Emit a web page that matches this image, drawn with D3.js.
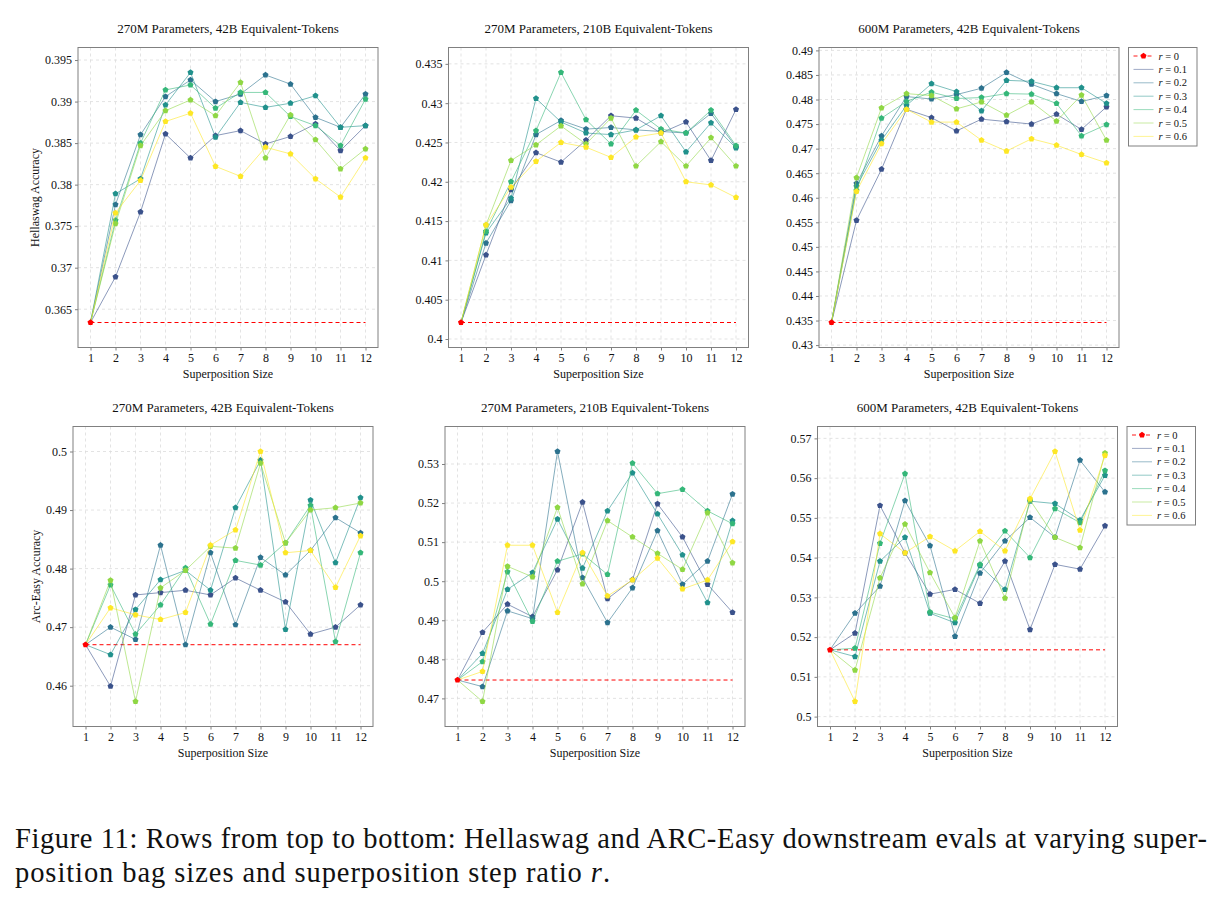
<!DOCTYPE html>
<html>
<head>
<meta charset="utf-8">
<script src="https://cdn.jsdelivr.net/npm/d3@7"></script>
<style>
  body { margin: 0; background: #fff; }
  svg { display: block; }
  text { font-family: "Liberation Serif", "DejaVu Serif", serif; fill: #111; }
</style>
</head>
<body>
<div class="canvas"></div>
<script>
// superposition sizes and step ratios
const sizes = [1, 2, 3, 4, 5, 6, 7, 8, 9, 10, 11, 12]
const ratios = ['0.1', '0.2', '0.3', '0.4', '0.5', '0.6']
const colors = ['#3b528b', '#2c728e', '#21918c', '#35b779', '#8fd744', '#fde725']

// r = 0 baselines (value at size 1, every series starts there)
const baselines = [0.3634, 0.4021, 0.4346, 0.4670, 0.4747, 0.5168]

// values for sizes 2..12, one row per ratio (0.1 .. 0.6)
const hellaswag270m42b = [
  [0.3689, 0.3767, 0.3861, 0.3832, 0.3859, 0.3865, 0.3849, 0.3858, 0.3873, 0.3841, 0.3871],
  [0.3776, 0.3860, 0.3906, 0.3926, 0.3900, 0.3909, 0.3932, 0.3921, 0.3881, 0.3869, 0.3909],
  [0.3789, 0.3807, 0.3896, 0.3935, 0.3857, 0.3899, 0.3893, 0.3898, 0.3907, 0.3869, 0.3871],
  [0.3757, 0.3850, 0.3914, 0.3920, 0.3892, 0.3911, 0.3911, 0.3882, 0.3871, 0.3847, 0.3903],
  [0.3753, 0.3847, 0.3889, 0.3902, 0.3883, 0.3923, 0.3832, 0.3884, 0.3854, 0.3819, 0.3843],
  [0.3766, 0.3805, 0.3876, 0.3886, 0.3822, 0.3810, 0.3845, 0.3837, 0.3807, 0.3785, 0.3832]
]
const hellaswag270m210b = [
  [0.4107, 0.4190, 0.4237, 0.4225, 0.4253, 0.4284, 0.4281, 0.4262, 0.4276, 0.4227, 0.4292],
  [0.4122, 0.4176, 0.4260, 0.4278, 0.4267, 0.4269, 0.4266, 0.4264, 0.4262, 0.4287, 0.4244],
  [0.4135, 0.4179, 0.4306, 0.4276, 0.4262, 0.4260, 0.4266, 0.4284, 0.4238, 0.4275, 0.4243],
  [0.4137, 0.4200, 0.4265, 0.4339, 0.4279, 0.4248, 0.4291, 0.4267, 0.4262, 0.4291, 0.4246],
  [0.4145, 0.4227, 0.4247, 0.4271, 0.4248, 0.4281, 0.4220, 0.4251, 0.4220, 0.4256, 0.4220],
  [0.4145, 0.4193, 0.4226, 0.4250, 0.4244, 0.4231, 0.4257, 0.4262, 0.4200, 0.4196, 0.4180]
]
const hellaswag600m42b = [
  [0.4554, 0.4658, 0.4780, 0.4763, 0.4736, 0.4760, 0.4755, 0.4750, 0.4770, 0.4739, 0.4785],
  [0.4629, 0.4726, 0.4806, 0.4801, 0.4810, 0.4823, 0.4855, 0.4831, 0.4812, 0.4796, 0.4808],
  [0.4623, 0.4717, 0.4788, 0.4832, 0.4816, 0.4777, 0.4839, 0.4837, 0.4824, 0.4824, 0.4792],
  [0.4615, 0.4762, 0.4796, 0.4815, 0.4802, 0.4804, 0.4812, 0.4811, 0.4792, 0.4726, 0.4749],
  [0.4641, 0.4783, 0.4812, 0.4808, 0.4781, 0.4795, 0.4768, 0.4795, 0.4756, 0.4809, 0.4717],
  [0.4613, 0.4710, 0.4780, 0.4754, 0.4754, 0.4717, 0.4695, 0.4720, 0.4707, 0.4688, 0.4671]
]
const arcEasy270m42b = [
  [0.4599, 0.4755, 0.4759, 0.4763, 0.4755, 0.4784, 0.4763, 0.4743, 0.4688, 0.4700, 0.4738],
  [0.4700, 0.4679, 0.4840, 0.4670, 0.4827, 0.4704, 0.4819, 0.4789, 0.4831, 0.4887, 0.4861],
  [0.4653, 0.4730, 0.4781, 0.4797, 0.4763, 0.4904, 0.4985, 0.4696, 0.4917, 0.4810, 0.4921],
  [0.4772, 0.4688, 0.4738, 0.4801, 0.4705, 0.4814, 0.4806, 0.4844, 0.4908, 0.4675, 0.4827],
  [0.4780, 0.4573, 0.4767, 0.4797, 0.4838, 0.4835, 0.4980, 0.4844, 0.4900, 0.4904, 0.4912],
  [0.4733, 0.4721, 0.4713, 0.4725, 0.4840, 0.4866, 0.5000, 0.4827, 0.4831, 0.4768, 0.4856]
]
const arcEasy270m210b = [
  [0.4869, 0.4941, 0.4909, 0.5029, 0.5202, 0.4955, 0.5004, 0.5198, 0.5113, 0.4992, 0.4920],
  [0.4730, 0.4924, 0.4904, 0.5332, 0.5009, 0.4894, 0.4983, 0.5129, 0.4992, 0.5051, 0.5223],
  [0.4815, 0.4979, 0.5022, 0.5159, 0.5033, 0.5180, 0.5277, 0.5172, 0.5067, 0.4945, 0.5155],
  [0.4794, 0.5024, 0.4897, 0.5051, 0.5070, 0.5017, 0.5302, 0.5224, 0.5235, 0.5180, 0.5147],
  [0.4692, 0.5038, 0.5011, 0.5189, 0.4993, 0.5155, 0.5113, 0.5071, 0.5030, 0.5175, 0.5047],
  [0.4769, 0.5092, 0.5092, 0.4920, 0.5073, 0.4962, 0.5003, 0.5059, 0.4980, 0.5003, 0.5101]
]
const arcEasy600m42b = [
  [0.5210, 0.5531, 0.5412, 0.5308, 0.5320, 0.5285, 0.5391, 0.5219, 0.5383, 0.5371, 0.5480],
  [0.5260, 0.5328, 0.5543, 0.5430, 0.5202, 0.5361, 0.5442, 0.5501, 0.5451, 0.5645, 0.5565],
  [0.5151, 0.5391, 0.5451, 0.5260, 0.5236, 0.5380, 0.5320, 0.5542, 0.5536, 0.5494, 0.5607],
  [0.5172, 0.5436, 0.5611, 0.5263, 0.5246, 0.5383, 0.5467, 0.5400, 0.5523, 0.5488, 0.5619],
  [0.5117, 0.5349, 0.5484, 0.5362, 0.5249, 0.5442, 0.5298, 0.5545, 0.5451, 0.5425, 0.5663],
  [0.5038, 0.5460, 0.5412, 0.5453, 0.5417, 0.5466, 0.5417, 0.5548, 0.5667, 0.5469, 0.5657]
]

// y tick values for each panel
const ticksHs270m42b = [0.365, 0.37, 0.375, 0.38, 0.385, 0.39, 0.395]
const ticksHs270m210b = [0.4, 0.405, 0.41, 0.415, 0.42, 0.425, 0.43, 0.435]
const ticksHs600m42b = [0.43, 0.435, 0.44, 0.445, 0.45, 0.455, 0.46, 0.465, 0.47, 0.475, 0.48, 0.485, 0.49]
const ticksArc270m42b = [0.46, 0.47, 0.48, 0.49, 0.5]
const ticksArc270m210b = [0.47, 0.48, 0.49, 0.5, 0.51, 0.52, 0.53]
const ticksArc600m42b = [0.5, 0.51, 0.52, 0.53, 0.54, 0.55, 0.56, 0.57]

const titles = [
  '270M Parameters, 42B Equivalent-Tokens',
  '270M Parameters, 210B Equivalent-Tokens',
  '600M Parameters, 42B Equivalent-Tokens'
]

const panels = [
  {rows: hellaswag270m42b, ticks: ticksHs270m42b, title: titles[0], ylabel: 'Hellaswag Accuracy', left: 78, top: 47.5},
  {rows: hellaswag270m210b, ticks: ticksHs270m210b, title: titles[1], left: 448.5, top: 47.5},
  {rows: hellaswag600m42b, ticks: ticksHs600m42b, title: titles[2], left: 819, top: 47.5, legend: true},
  {rows: arcEasy270m42b, ticks: ticksArc270m42b, title: titles[0], ylabel: 'Arc-Easy Accuracy', left: 73, top: 426.5},
  {rows: arcEasy270m210b, ticks: ticksArc270m210b, title: titles[1], left: 445, top: 426.5},
  {rows: arcEasy600m42b, ticks: ticksArc600m42b, title: titles[2], left: 817.5, top: 426.5, legend: true}
]

const width = 300
const height = 300
const serif = '"Liberation Serif", "DejaVu Serif", serif'
const fmt = v => String(+v.toFixed(3))

// pentagon marker for d3.symbol
const pentagon = {
  draw (context, size) {
    const r = Math.sqrt(size / 2.378)
    for (let i = 0; i < 5; i++) {
      const a = -Math.PI / 2 + i * 2 * Math.PI / 5
      const px = r * Math.cos(a)
      const py = r * Math.sin(a)
      if (i === 0) context.moveTo(px, py)
      else context.lineTo(px, py)
    }
    context.closePath()
  }
}
const marker = d3.symbol().type(pentagon).size(24)

const svg = d3.select('.canvas')
  .append('svg')
  .attr('width', 1219)
  .attr('height', 903)
  .attr('font-family', serif)

panels.forEach((p, i) => {
  const base = baselines[i]
  const all = p.rows.flat().concat([base])
  const [lo, hi] = d3.extent(all)
  const pad = (hi - lo) * 0.1

  const x = d3.scaleLinear().domain([0.5, 12.5]).range([0, width])
  const y = d3.scaleLinear().domain([lo - pad, hi + pad]).range([height, 0])

  const g = svg.append('g')
    .attr('transform', `translate(${p.left}, ${p.top})`)

  // dashed grid
  g.append('g').selectAll('line')
    .data(sizes)
    .join('line')
    .attr('x1', d => x(d)).attr('x2', d => x(d))
    .attr('y1', 0).attr('y2', height)
  g.append('g').selectAll('line')
    .data(p.ticks)
    .join('line')
    .attr('x1', 0).attr('x2', width)
    .attr('y1', d => y(d)).attr('y2', d => y(d))
  g.selectAll('line')
    .attr('stroke', '#dcdcdc')
    .attr('stroke-width', 0.8)
    .attr('stroke-dasharray', '3,3')

  // axes
  const xAxis = g.append('g')
    .attr('transform', `translate(0, ${height})`)
    .call(d3.axisBottom(x).tickValues(sizes).tickSize(3).tickPadding(3).tickFormat(d3.format('d')))
  const yAxis = g.append('g')
    .call(d3.axisLeft(y).tickValues(p.ticks).tickSize(3).tickPadding(3).tickFormat(fmt))
  ;[xAxis, yAxis].forEach(a => {
    a.select('.domain').remove()
    a.attr('font-family', serif).attr('font-size', 12)
    a.selectAll('line').attr('stroke', '#808080')
    a.selectAll('text').style('font-size', '12px').style('font-family', serif)
  })

  g.append('rect')
    .attr('width', width)
    .attr('height', height)
    .attr('fill', 'none')
    .attr('stroke', '#808080')
    .attr('stroke-width', 1)

  // r = 0 baseline
  g.append('line')
    .attr('x1', x(sizes[0])).attr('x2', x(sizes[sizes.length - 1]))
    .attr('y1', y(base)).attr('y2', y(base))
    .attr('stroke', '#ff0000')
    .attr('stroke-width', 1)
    .attr('stroke-dasharray', '4,3')

  // series
  const line = d3.line()
    .x((d, j) => x(sizes[j]))
    .y(d => y(d))
  p.rows.forEach((row, k) => {
    const values = [base].concat(row)
    g.append('path')
      .attr('d', line(values))
      .attr('fill', 'none')
      .attr('stroke', colors[k])
      .attr('stroke-opacity', 0.65)
      .attr('stroke-width', 0.9)
    g.append('g').selectAll('path')
      .data(row)
      .join('path')
      .attr('d', marker)
      .attr('transform', (d, j) => `translate(${x(sizes[j + 1])}, ${y(d)})`)
      .attr('fill', colors[k])
  })

  g.append('path')
    .attr('d', marker)
    .attr('transform', `translate(${x(sizes[0])}, ${y(base)})`)
    .attr('fill', '#ff0000')

  // labels
  g.append('text')
    .attr('x', width / 2)
    .attr('y', -15)
    .attr('text-anchor', 'middle')
    .style('font-size', '13px')
    .text(p.title)
  g.append('text')
    .attr('x', width / 2)
    .attr('y', height + 30)
    .attr('text-anchor', 'middle')
    .style('font-size', '12px')
    .text('Superposition Size')
  if (p.ylabel) {
    const bb = yAxis.node().getBBox()
    g.append('text')
      .attr('transform', `translate(${bb.x - 6}, ${height / 2}) rotate(-90)`)
      .attr('text-anchor', 'middle')
      .style('font-size', '12px')
      .text(p.ylabel)
  }

  if (p.legend) {
    const lg = g.append('g').attr('transform', `translate(${width + 9.5}, 0)`)
    lg.append('rect')
      .attr('width', 68.5)
      .attr('height', 98.5)
      .attr('fill', '#fff')
      .attr('stroke', '#808080')
    const entries = ['0'].concat(ratios)
    const item = lg.selectAll('g.item')
      .data(entries)
      .join('g')
      .attr('class', 'item')
      .attr('transform', (d, j) => `translate(0, ${8.5 + j * 13.4})`)
    item.append('line')
      .attr('x1', 5).attr('x2', 25)
      .attr('stroke', (d, j) => j === 0 ? '#ff0000' : colors[j - 1])
      .attr('stroke-opacity', (d, j) => j === 0 ? 1 : 0.55)
      .attr('stroke-width', 0.9)
      .attr('stroke-dasharray', (d, j) => j === 0 ? '4,3' : null)
    item.filter((d, j) => j === 0)
      .append('path')
      .attr('d', marker)
      .attr('transform', 'translate(15, 0)')
      .attr('fill', '#ff0000')
    const t = item.append('text')
      .attr('x', 30)
      .attr('y', 3.5)
      .style('font-size', '10.5px')
    t.append('tspan').style('font-style', 'italic').text('r')
    t.append('tspan').text(d => ` = ${d}`)
  }
})

// caption
svg.append('text')
  .attr('x', 15)
  .attr('y', 848)
  .attr('textLength', 1192)
  .attr('lengthAdjust', 'spacing')
  .style('font-size', '28.5px')
  .text('Figure 11: Rows from top to bottom: Hellaswag and ARC-Easy downstream evals at varying super-')
const cap2 = svg.append('text')
  .attr('x', 15)
  .attr('y', 882)
  .attr('textLength', 595)
  .attr('lengthAdjust', 'spacing')
  .style('font-size', '28.5px')
cap2.append('tspan').text('position bag sizes and superposition step ratio ')
cap2.append('tspan').style('font-style', 'italic').text('r')
cap2.append('tspan').text('.')
</script>
</body>
</html>
